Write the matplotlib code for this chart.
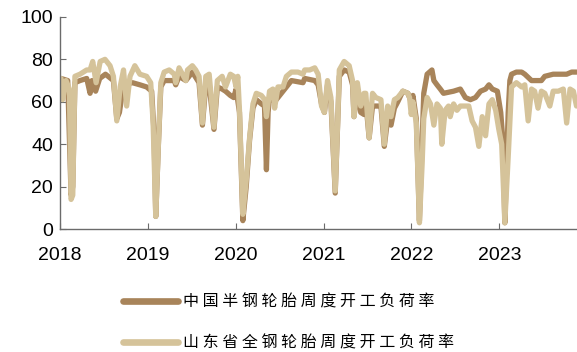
import pandas as pd
import matplotlib
matplotlib.use('Agg')
from matplotlib import pyplot as plt
import matplotlib.dates as mdates

plt.rcParams['font.family'] = ['Liberation Sans', 'Noto Sans CJK SC', 'DejaVu Sans']

# 中国半钢胎周度开工负荷率 (%)
dates_cn = ['2018-01-05', '2018-02-02', '2018-02-16', '2018-02-23', '2018-03-04', '2018-03-25', '2018-04-22',
            '2018-05-06', '2018-05-14', '2018-05-29', '2018-06-15', '2018-07-09', '2018-08-11', '2018-08-25',
            '2018-09-05', '2018-09-22', '2018-10-29', '2018-11-29', '2018-12-27',
            '2019-01-17', '2019-01-27', '2019-02-03', '2019-02-14', '2019-02-24', '2019-03-10', '2019-04-21',
            '2019-04-27', '2019-05-11', '2019-06-08', '2019-07-05', '2019-08-02', '2019-08-16', '2019-08-30',
            '2019-09-13', '2019-10-03', '2019-10-17', '2019-11-06', '2019-11-20', '2019-12-10', '2019-12-24',
            '2020-01-03', '2020-01-17', '2020-01-31', '2020-02-14', '2020-02-28', '2020-03-13', '2020-03-27',
            '2020-04-17', '2020-04-30', '2020-05-08', '2020-05-15', '2020-05-21', '2020-06-11', '2020-06-25',
            '2020-07-16', '2020-08-20', '2020-10-07', '2020-10-14', '2020-11-25', '2020-12-09', '2020-12-23',
            '2021-01-04', '2021-01-17', '2021-01-31', '2021-02-18', '2021-03-07', '2021-03-27', '2021-04-17',
            '2021-05-01', '2021-05-07', '2021-05-21', '2021-06-04', '2021-06-18', '2021-06-25', '2021-07-09',
            '2021-07-23', '2021-08-06', '2021-08-27', '2021-09-10', '2021-09-24', '2021-10-08', '2021-10-22',
            '2021-11-05', '2021-11-26', '2021-12-17', '2021-12-31',
            '2022-01-07', '2022-01-21', '2022-02-03', '2022-02-14', '2022-02-21', '2022-03-07', '2022-03-27',
            '2022-04-04', '2022-04-17', '2022-05-01', '2022-05-14', '2022-06-25', '2022-07-23', '2022-08-13',
            '2022-09-03', '2022-09-24', '2022-10-15', '2022-11-05', '2022-11-19', '2022-12-03', '2022-12-24',
            '2023-01-07', '2023-01-17', '2023-01-24', '2023-02-07', '2023-02-14', '2023-02-21', '2023-03-13',
            '2023-04-04', '2023-04-17', '2023-05-15', '2023-06-25', '2023-07-09', '2023-08-13', '2023-09-24',
            '2023-10-08', '2023-10-29', '2023-11-18']
rate_cn = [71, 70, 16, 20, 69, 70, 71,
           64, 70, 65, 71, 73, 70, 52,
           55, 68, 69, 68, 67,
           65, 45, 6, 40, 67, 70, 70,
           68, 72, 70, 74, 69, 49, 68,
           68, 47, 67, 66, 65, 63, 62,
           66, 55, 4, 20, 42, 57, 61,
           59, 58, 28, 55, 62, 60, 62,
           65, 70, 69, 71, 70, 68, 59,
           55, 68, 60, 17, 72, 75, 74,
           68, 53, 66, 55, 54, 60, 43,
           58, 58, 58, 39, 52, 49, 57,
           60, 65, 64, 60,
           63, 52, 4, 40, 64, 73, 75,
           70, 68, 66, 64, 65, 66, 62,
           61, 62, 65, 66, 68, 66, 65,
           55, 40, 3, 55, 70, 73, 74,
           74, 73, 70, 70, 72, 73, 73,
           73, 74, 74]

# 山东省全钢胎周度开工负荷率 (%)
dates_sd = ['2018-01-05', '2018-01-12', '2018-01-26', '2018-02-09', '2018-02-16', '2018-02-23', '2018-03-04',
            '2018-03-25', '2018-04-22', '2018-05-06', '2018-05-17', '2018-05-31', '2018-06-17', '2018-07-07',
            '2018-07-28', '2018-08-11', '2018-08-25', '2018-09-08', '2018-09-22', '2018-10-05', '2018-10-19',
            '2018-11-08', '2018-11-29', '2018-12-27',
            '2019-01-13', '2019-01-23', '2019-02-03', '2019-02-14', '2019-02-24', '2019-03-10', '2019-03-31',
            '2019-04-21', '2019-04-27', '2019-05-11', '2019-05-25', '2019-06-08', '2019-06-15', '2019-07-05',
            '2019-07-19', '2019-08-02', '2019-08-16', '2019-08-30', '2019-09-13', '2019-10-03', '2019-10-17',
            '2019-11-06', '2019-11-20', '2019-12-10', '2019-12-24',
            '2020-01-03', '2020-01-10', '2020-01-17', '2020-01-31', '2020-02-14', '2020-02-28', '2020-03-13',
            '2020-03-27', '2020-04-17', '2020-05-01', '2020-05-08', '2020-05-21', '2020-06-04', '2020-06-11',
            '2020-06-25', '2020-07-16', '2020-07-30', '2020-08-20', '2020-09-16', '2020-10-07', '2020-10-14',
            '2020-11-04', '2020-11-25', '2020-12-09', '2020-12-23',
            '2021-01-04', '2021-01-17', '2021-01-31', '2021-02-18', '2021-02-28', '2021-03-07', '2021-03-27',
            '2021-04-17', '2021-05-01', '2021-05-07', '2021-05-21', '2021-06-04', '2021-06-18', '2021-06-25',
            '2021-07-09', '2021-07-23', '2021-08-06', '2021-08-27', '2021-09-10', '2021-09-24', '2021-10-08',
            '2021-10-22', '2021-11-05', '2021-11-26', '2021-12-17', '2021-12-24', '2021-12-31',
            '2022-01-07', '2022-01-21', '2022-02-03', '2022-02-14', '2022-02-21', '2022-03-07', '2022-03-21',
            '2022-04-04', '2022-04-17', '2022-05-01', '2022-05-07', '2022-05-21', '2022-06-04', '2022-06-11',
            '2022-06-25', '2022-07-09', '2022-07-23', '2022-08-06', '2022-08-27', '2022-09-10', '2022-09-24',
            '2022-10-08', '2022-10-22', '2022-11-05', '2022-11-19', '2022-12-03', '2022-12-17', '2022-12-30',
            '2023-01-11', '2023-01-24', '2023-02-07', '2023-02-21', '2023-03-13', '2023-04-04', '2023-04-17',
            '2023-05-01', '2023-05-15', '2023-05-28', '2023-06-11', '2023-06-25', '2023-07-09', '2023-07-30',
            '2023-08-13', '2023-09-03', '2023-09-24', '2023-10-08', '2023-10-22', '2023-11-05', '2023-11-18']
rate_sd = [71, 61, 70, 66, 14, 16, 72,
           73, 75, 75, 79, 69, 79, 80,
           77, 72, 51, 67, 75, 58, 72,
           77, 73, 72,
           69, 50, 6, 40, 69, 74, 75,
           73, 69, 76, 73, 70, 75, 77,
           75, 72, 50, 72, 73, 48, 70,
           72, 67, 73, 72,
           67, 72, 56, 7, 23, 43, 59,
           64, 63, 61, 53, 65, 66, 57,
           67, 67, 72, 74, 74, 73, 75,
           75, 76, 73, 58,
           55, 70, 62, 18, 50, 75, 79,
           77, 70, 53, 69, 58, 64, 64,
           43, 64, 62, 61, 40, 58, 53,
           61, 62, 65, 64, 62, 54,
           60, 50, 3, 30, 52, 62, 59,
           49, 59, 57, 40, 56, 58, 53,
           59, 56, 58, 58, 58, 51, 48,
           39, 53, 44, 59, 61, 56, 47,
           40, 3, 34, 67, 69, 67, 68,
           51, 66, 65, 57, 65, 64, 58,
           65, 65, 66, 50, 66, 65, 58]

labels = ['中国半钢轮胎周度开工负荷率', '山东省全钢轮胎周度开工负荷率']
colors = ['#A8845A', '#D5C39A']
years = ['2018', '2019', '2020', '2021', '2022', '2023']

x_cn = pd.to_datetime(dates_cn)
x_sd = pd.to_datetime(dates_sd)

fig = plt.figure(figsize=(5.77, 3.52), dpi=100)
ax = fig.add_axes([0.104, 0.349, 0.896, 0.603])

line_kw = dict(lw=3.8, solid_joinstyle='round', solid_capstyle='round')
# 图例里字距较宽，字间加空格
ax.plot(x_cn, rate_cn, color=colors[0], label=' '.join(labels[0]), **line_kw)
ax.plot(x_sd, rate_sd, color=colors[1], label=' '.join(labels[1]), **line_kw)

ax.set_ylim(0, 100)
ax.set_yticks(range(0, 101, 20))
ax.set_xlim(pd.Timestamp('2018-01-01'), pd.Timestamp('2023-11-20'))
ax.set_xticks(pd.to_datetime([y + '-01-01' for y in years]))
ax.xaxis.set_major_formatter(mdates.DateFormatter('%Y'))

for s in ['top', 'right']:
    ax.spines[s].set_visible(False)
for s in ['left', 'bottom']:
    ax.spines[s].set_color('#6b6b6b')
    ax.spines[s].set_linewidth(1.0)
ax.tick_params(axis='both', direction='in', length=4.5, color='#6b6b6b', labelsize=14)
ax.tick_params(axis='x', pad=13)
ax.tick_params(axis='y', pad=5)

leg = fig.legend(loc='upper left', bbox_to_anchor=(0.213, 0.166), frameon=False,
                 prop={'family': ['Noto Sans CJK SC', 'DejaVu Sans'], 'size': 11.5},
                 handlelength=3.45, handletextpad=0.32, labelspacing=1.5, borderpad=0, borderaxespad=0)
for h in leg.get_lines():
    h.set_linewidth(4.8)

fig.savefig('out.png', dpi=100)
